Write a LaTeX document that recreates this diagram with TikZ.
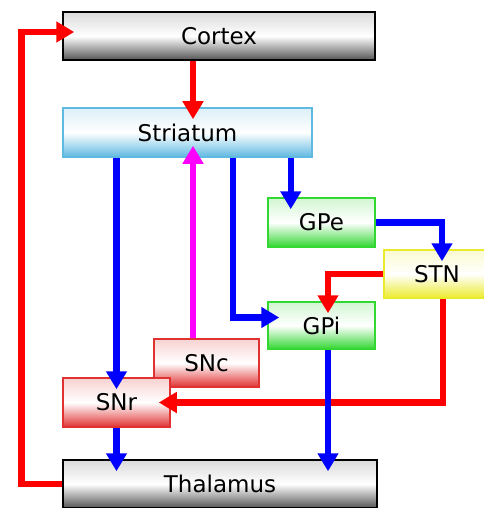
\documentclass[tikz,border=0pt]{standalone}
\usepackage{fontspec}
\setmainfont{DejaVu Sans}
\usetikzlibrary{arrows.meta,calc}
\definecolor{ctxGray}{RGB}{85,85,85}
\definecolor{strBlue}{RGB}{95,185,225}
\definecolor{gpGreen}{RGB}{50,215,50}
\definecolor{stnYellow}{RGB}{235,235,45}
\definecolor{snRed}{RGB}{225,50,50}
\definecolor{daPink}{RGB}{255,0,255}

\begin{document}
\begin{tikzpicture}[x=1pt,y=-1pt,
    nucleus/.style={draw=#1, rectangle, line width=1.5pt, inner sep=0pt,
      top color=#1!22, bottom color=#1, middle color=white,
      font=\fontsize{23}{27}\selectfont},
    relay/.style={nucleus=ctxGray, draw=black},
    link/.style={line width=6.5pt, -{Triangle[width=20pt,length=18pt]},
      shorten >=-12pt}]
  \useasboundingbox (0,0) rectangle (483,508);

  % boxes
  \node[relay, minimum width=312, minimum height=48] (cortex) at (219,36) {Cortex};
  \node[nucleus=strBlue, minimum width=249, minimum height=49] (striatum) at (187.5,132.5) {Striatum};
  \node[nucleus=gpGreen, minimum width=107, minimum height=49] (gpe) at (321.5,222.5) {GPe};
  \node[nucleus=stnYellow, minimum width=106, minimum height=48] (stn) at (437,274) {STN};
  \node[nucleus=gpGreen, minimum width=107, minimum height=47] (gpi) at (321.5,325.5) {GPi};
  \node[nucleus=snRed, minimum width=105, minimum height=48] (snc) at (206.5,363) {SNc};
  \node[nucleus=snRed, minimum width=107, minimum height=49] (snr) at (116.5,402.5) {SNr};
  \node[relay, minimum width=314, minimum height=48] (thalamus) at (220,484) {Thalamus};

  % column shared by cortex input and dopamine path
  \coordinate (mid) at (193,0);

  % red: excitatory
  \draw[link, red] (cortex.south -| mid) -- (striatum.north -| mid);
  \draw[link, red] (thalamus.west) -- ++(-41,0) |- ($(cortex.west)+(0,-4)$);
  \draw[link, red] (stn.west) -| ($(gpi.north)+(6.5,0)$);
  \draw[link, red] ($(stn.south)+(6,0)$) |- (snr.east);

  % magenta: dopamine
  \draw[link, daPink] (snc.north -| mid) -- (striatum.south -| mid);

  % blue: inhibitory
  \draw[link, blue] (striatum.south -| snr.north) -- (snr.north);
  \draw[link, blue] ($(striatum.south east)+(-80,0)$) |- ($(gpi.west)+(0,-8)$);
  \draw[link, blue] ($(striatum.south east)+(-22,0)$) coordinate (s3) -- (s3 |- gpe.north);
  \draw[link, blue] (gpe.east) -| ($(stn.north)+(5,0)$);
  \draw[link, blue] ($(gpi.south)+(6.5,0)$) coordinate (g1) -- (g1 |- thalamus.north);
  \draw[link, blue] (snr.south) -- (snr.south |- thalamus.north);
\end{tikzpicture}
\end{document}
